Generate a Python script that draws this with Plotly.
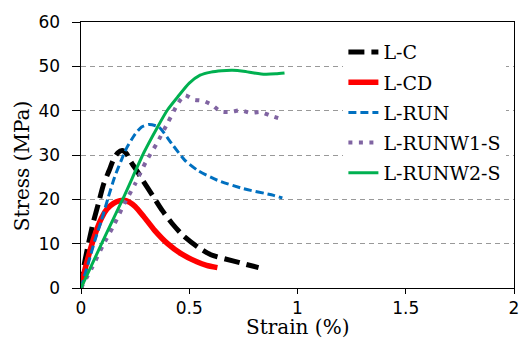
import plotly.graph_objects as go

# L-C (black dashed)
lc_x = [0, 0.01, 0.03, 0.055, 0.08, 0.105, 0.13, 0.15, 0.17, 0.19, 0.21, 0.23, 0.26, 0.285,
        0.33, 0.375, 0.42, 0.47, 0.54, 0.6, 0.71, 0.82]
lc_y = [0, 4, 9, 14.5, 19, 23.5, 26.5, 29, 30.5, 31, 30.3, 28.5, 26.3, 24.3,
        20.9, 17.5, 14.6, 11.9, 9.2, 7.5, 6.0, 4.6]

# L-CD (red)
lcd_x = [0, 0.02, 0.045, 0.07, 0.095, 0.12, 0.15, 0.18, 0.2, 0.225, 0.25, 0.29, 0.34,
         0.4, 0.46, 0.535, 0.58, 0.63]
lcd_y = [0.5, 4.5, 9, 12.8, 15.8, 17.8, 19.1, 19.7, 19.8, 19.3, 18.4, 16.1, 13,
         10, 7.8, 5.9, 5.1, 4.6]

# L-RUN (blue dashed)
run_x = [0, 0.033, 0.064, 0.094, 0.125, 0.155, 0.186, 0.21, 0.25, 0.28, 0.315, 0.36,
         0.42, 0.48, 0.54, 0.63, 0.75, 0.89, 0.93]
run_y = [0, 5.5, 10.7, 15.2, 20.3, 25, 28.8, 31.5, 34.7, 36.3, 36.9, 36.3,
         32.5, 28.8, 26.5, 24.3, 22.4, 20.9, 20.3]

# L-RUNW1-S (purple dotted)
w1_x = [0, 0.05, 0.1, 0.15, 0.2, 0.25, 0.3, 0.35, 0.4, 0.45, 0.48, 0.52, 0.565, 0.605,
        0.645, 0.69, 0.737, 0.783, 0.828, 0.874, 0.918]
w1_y = [0, 4.5, 9.5, 14, 19, 23.5, 28.5, 32.6, 37.2, 41.8, 43.5, 42.5, 42.2, 41.3,
        39.8, 39.7, 40.1, 39.5, 39.7, 38.9, 38.2]

# L-RUNW2-S (green)
w2_x = [0, 0.1, 0.2, 0.29, 0.35, 0.4, 0.45, 0.5, 0.55, 0.6, 0.65, 0.7, 0.75, 0.8,
        0.85, 0.9, 0.94]
w2_y = [0, 10.5, 20.8, 30.5, 36, 40.2, 43.3, 46.2, 48.0, 48.7, 49.0, 49.1, 48.9, 48.5,
        48.2, 48.3, 48.5]

x_ticks = [0, 0.5, 1, 1.5, 2]
x_tick_text = ["0", "0.5", "1", "1.5", "2"]
y_ticks = [0, 10, 20, 30, 40, 50, 60]
y_tick_text = ["0", "10", "20", "30", "40", "50", "60"]

series = [
    ("L-C", lc_x, lc_y, dict(color="#000000", width=5, dash="16px,7px")),
    ("L-CD", lcd_x, lcd_y, dict(color="#FF0000", width=5.5)),
    ("L-RUN", run_x, run_y, dict(color="#0070C0", width=3, dash="8px,4px")),
    ("L-RUNW1-S", w1_x, w1_y, dict(color="#8064A2", width=4, dash="4px,6.5px")),
    ("L-RUNW2-S", w2_x, w2_y, dict(color="#00B050", width=3)),
]

fig = go.Figure()
for name, xs, ys, line in series:
    fig.add_trace(go.Scatter(x=xs, y=ys, mode="lines", name=name, legendgroup=name,
                             line=dict(shape="spline", smoothing=0.6, **line)))

tick_font = dict(family="DejaVu Sans", size=17, color="#000000")
serif = "DejaVu Serif"

fig.update_layout(
    width=521, height=343,
    margin=dict(l=81, r=2, t=22, b=55),
    paper_bgcolor="white", plot_bgcolor="white",
    font=dict(family=serif, color="#000000"),
    showlegend=True,
    legend=dict(x=0.606, y=0.958, xanchor="left", yanchor="top",
                bgcolor="white", borderwidth=0, tracegroupgap=2.5,
                font=dict(family=serif, size=19, color="#000000")),
    xaxis=dict(range=[0, 2], tickvals=x_ticks, ticktext=x_tick_text,
               showgrid=False, zeroline=False,
               showline=True, linecolor="#000000", linewidth=1, mirror=True,
               ticks="outside", ticklen=5, tickcolor="#000000", tickfont=tick_font,
               ticklabeloverflow="allow"),
    yaxis=dict(range=[0, 60], tickvals=y_ticks,
               ticktext=[t + "\u2002" for t in y_tick_text],
               showgrid=True, gridcolor="#999999", gridwidth=1, griddash="5px,4px",
               zeroline=False,
               showline=True, linecolor="#000000", linewidth=1, mirror=True,
               ticks="outside", ticklen=8, tickcolor="#000000", tickfont=tick_font),
    annotations=[
        dict(text="Strain (%)", xref="paper", yref="paper", x=0.5, y=-0.148,
             xanchor="center", yanchor="middle", showarrow=False,
             font=dict(family=serif, size=20, color="#000000")),
        dict(text="Stress (MPa)", xref="paper", yref="paper", x=-0.137, y=0.46,
             xanchor="center", yanchor="middle", showarrow=False, textangle=-90,
             font=dict(family=serif, size=20, color="#000000")),
    ],
)

fig.write_html("out.html")
